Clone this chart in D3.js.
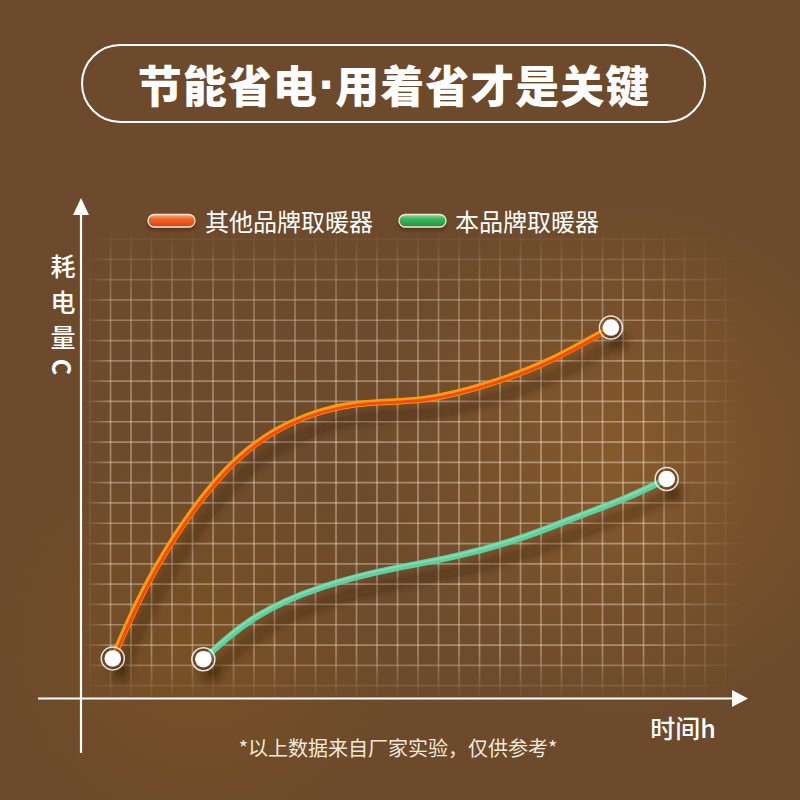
<!DOCTYPE html>
<html><head><meta charset="utf-8">
<script src="https://cdn.jsdelivr.net/npm/d3@7/dist/d3.min.js"></script>
<style>html,body{margin:0;padding:0;background:#6c4a2b;}svg{display:block;}</style>
</head><body>
<script>
// ---- data ----
const titleText = "节能省电·用着省才是关键";
const seriesNames = ["其他品牌取暖器", "本品牌取暖器"];
const hoursOther = [1.55, 3.69, 6.94, 10.2, 13.45, 16.7, 19.95, 22.9, 25.85];
const powerOther = [1.9, 6.41, 11.02, 13.48, 14.43, 14.67, 15.45, 16.6, 18.2];
const hoursOurs = [5.97, 8.57, 11.82, 15.07, 18.33, 21.5, 24.0, 26.45, 28.57];
const powerOurs = [1.86, 3.96, 5.43, 6.29, 6.95, 7.85, 8.8, 9.75, 10.74];
const yLabelChars = ["耗", "电", "量", "C"];
const xLabel = "时间h";
const footnote = "*以上数据来自厂家实验，仅供参考*";

const W = 800, H = 800;
const svg = d3.select("body").append("svg").attr("width", W).attr("height", H);
const defs = svg.append("defs");
const FONT = "'Noto Sans CJK SC','Noto Sans',sans-serif";

// scales (grid units)
const x = d3.scaleLinear().domain([0, 32]).range([81, 737]);
const y = d3.scaleLinear().domain([0, 22]).range([697, 250.4]);

// background
svg.append("rect").attr("width", W).attr("height", H).attr("fill", "#6c4a2b");
const g1 = defs.append("radialGradient").attr("id", "glow1").attr("gradientUnits", "userSpaceOnUse")
  .attr("cx", 620).attr("cy", 460).attr("r", 260);
g1.append("stop").attr("offset", 0).attr("stop-color", "#8e5f2c").attr("stop-opacity", 0.75);
g1.append("stop").attr("offset", 1).attr("stop-color", "#8e5f2c").attr("stop-opacity", 0);
svg.append("rect").attr("width", W).attr("height", H).attr("fill", "url(#glow1)");
const g2 = defs.append("radialGradient").attr("id", "glow2").attr("gradientUnits", "userSpaceOnUse")
  .attr("cx", 200).attr("cy", 640).attr("r", 200);
g2.append("stop").attr("offset", 0).attr("stop-color", "#84561f").attr("stop-opacity", 0.55);
g2.append("stop").attr("offset", 1).attr("stop-color", "#84561f").attr("stop-opacity", 0);
svg.append("rect").attr("width", W).attr("height", H).attr("fill", "url(#glow2)");

// title
svg.append("rect").attr("x", 82).attr("y", 45).attr("width", 623).attr("height", 77)
  .attr("rx", 38.5).attr("fill", "none").attr("stroke", "#fff").attr("stroke-width", 2);
const parts = titleText.split("·");
const tt = svg.append("text").attr("x", 394).attr("y", 84).attr("text-anchor", "middle")
  .attr("dominant-baseline", "central").attr("fill", "#fff")
  .attr("font-family", FONT).attr("font-weight", 900).attr("font-size", 44)
  .attr("letter-spacing", 1);
tt.append("tspan").text(parts[0]);
tt.append("tspan").attr("font-family", "'DejaVu Sans',sans-serif").attr("font-weight", 700).text("·");
tt.append("tspan").text(parts[1]);

// grid with fading mask
const mh = defs.append("linearGradient").attr("id", "fadeH").attr("gradientUnits", "userSpaceOnUse")
  .attr("x1", 84).attr("x2", 742).attr("y1", 0).attr("y2", 0);
[[0,0],[0.04,0.9],[0.85,1],[1,0]].forEach(([o,v]) => mh.append("stop").attr("offset", o).attr("stop-color", "#fff").attr("stop-opacity", v));
const mv = defs.append("linearGradient").attr("id", "fadeV").attr("gradientUnits", "userSpaceOnUse")
  .attr("x1", 0).attr("x2", 0).attr("y1", 228).attr("y2", 700);
[[0,0],[0.16,0.75],[0.4,1],[0.9,0.9],[1,0]].forEach(([o,v]) => mv.append("stop").attr("offset", o).attr("stop-color", "#fff").attr("stop-opacity", v));
defs.append("mask").attr("id", "maskH").attr("maskUnits", "userSpaceOnUse")
  .attr("x", 0).attr("y", 0).attr("width", W).attr("height", H)
  .append("rect").attr("width", W).attr("height", H).attr("fill", "url(#fadeH)");
defs.append("mask").attr("id", "maskV").attr("maskUnits", "userSpaceOnUse")
  .attr("x", 0).attr("y", 0).attr("width", W).attr("height", H)
  .append("rect").attr("width", W).attr("height", H).attr("fill", "url(#fadeV)");
defs.append("filter").attr("id", "gridBlur").append("feGaussianBlur").attr("stdDeviation", 0.5);

const gridV = d3.range(0, 32).map(k => 0.44 + k);
const gridH = d3.range(0, 23).map(k => 0.56 + k);
const gridOuter = svg.append("g").attr("mask", "url(#maskV)");
const grid = gridOuter.append("g").attr("mask", "url(#maskH)").attr("filter", "url(#gridBlur)");
grid.selectAll("line.v").data(gridV).join("line").attr("class", "v")
  .attr("x1", d => x(d)).attr("x2", d => x(d)).attr("y1", 228).attr("y2", 700)
  .attr("stroke", "#f4e6d6").attr("stroke-opacity", 0.45).attr("stroke-width", 1.7);
grid.selectAll("line.h").data(gridH).join("line").attr("class", "h")
  .attr("y1", d => y(d)).attr("y2", d => y(d)).attr("x1", 84).attr("x2", 742)
  .attr("stroke", "#f4e6d6").attr("stroke-opacity", 0.45).attr("stroke-width", 1.7);

// axes
const axisG = svg.append("g").attr("fill", "#fff").attr("stroke", "#fff");
axisG.append("line").attr("x1", 81).attr("x2", 81).attr("y1", 753).attr("y2", 212).attr("stroke-width", 2.2);
axisG.append("path").attr("d", "M81,198 L89,215 L73,215 Z").attr("stroke", "none");
axisG.append("line").attr("x1", 38).attr("x2", 735).attr("y1", 698.5).attr("y2", 698.5).attr("stroke-width", 2.2);
axisG.append("path").attr("d", "M748,698.5 L732,690 L732,707 Z").attr("stroke", "none");

// axis labels
const yl = svg.append("g").attr("fill", "#fff").attr("font-family", FONT).attr("font-size", 25).attr("font-weight", 500);
const ylY = [265, 301, 336];
yLabelChars.forEach((c, i) => {
  if (i < 3) {
    yl.append("text").attr("x", 63).attr("y", ylY[i]).attr("text-anchor", "middle")
      .attr("dominant-baseline", "central").text(c);
  } else {
    yl.append("text").attr("transform", "translate(63,367) rotate(90)").attr("text-anchor", "middle")
      .attr("dominant-baseline", "central").attr("font-weight", 700).text(c);
  }
});
svg.append("text").attr("x", 683).attr("y", 727).attr("text-anchor", "middle")
  .attr("dominant-baseline", "central").attr("fill", "#fff").attr("font-family", FONT)
  .attr("font-size", 25).attr("font-weight", 500).text(xLabel);
svg.append("text").attr("x", 398).attr("y", 747).attr("text-anchor", "middle")
  .attr("dominant-baseline", "central").attr("fill", "#f3e8dc").attr("font-family", FONT)
  .attr("font-size", 20).text(footnote);

// legend
function pillGrad(id, stops) {
  const g = defs.append("linearGradient").attr("id", id).attr("x1", 0).attr("x2", 0).attr("y1", 0).attr("y2", 1);
  stops.forEach(([o, c]) => g.append("stop").attr("offset", o).attr("stop-color", c));
}
pillGrad("pillO", [[0, "#ffb07a"], [0.35, "#f3682a"], [1, "#d8400b"]]);
pillGrad("pillG", [[0, "#8fe09a"], [0.35, "#3cb85a"], [1, "#1f953a"]]);
defs.append("filter").attr("id", "pillShadow").attr("x", "-30%").attr("y", "-50%").attr("width", "160%").attr("height", "220%")
  .append("feDropShadow").attr("dx", 0).attr("dy", 2).attr("stdDeviation", 1.5).attr("flood-color", "#2a1808").attr("flood-opacity", 0.5);
const legendItems = [
  { name: seriesNames[0], px: 148, tx: 205, fill: "url(#pillO)" },
  { name: seriesNames[1], px: 399, tx: 455, fill: "url(#pillG)" }
];
const lg = svg.append("g");
legendItems.forEach(it => {
  lg.append("rect").attr("x", it.px).attr("y", 214.5).attr("width", 47).attr("height", 12.5).attr("rx", 6.25)
    .attr("fill", it.fill).attr("stroke", "#f6e3cf").attr("stroke-width", 1.3).attr("filter", "url(#pillShadow)");
  lg.append("text").attr("x", it.tx).attr("y", 220.5).attr("dominant-baseline", "central")
    .attr("fill", "#fff").attr("font-family", FONT).attr("font-size", 24).text(it.name);
});

// curves
const line = d3.line().x(d => x(d[0])).y(d => y(d[1])).curve(d3.curveNatural);
const other = hoursOther.map((h, i) => [h, powerOther[i]]);
const ours = hoursOurs.map((h, i) => [h, powerOurs[i]]);

defs.append("filter").attr("id", "lineShadow").attr("x", "-20%").attr("y", "-20%").attr("width", "140%").attr("height", "140%")
  .append("feGaussianBlur").attr("stdDeviation", 4);
const shadowG = svg.append("g").attr("filter", "url(#lineShadow)").attr("transform", "translate(8,14)");
[other, ours].forEach(data => {
  shadowG.append("path").attr("d", line(data)).attr("fill", "none")
    .attr("stroke", "#2e1a08").attr("stroke-opacity", 0.45).attr("stroke-width", 7);
  shadowG.selectAll(null).data([data[0], data[data.length - 1]]).join("circle")
    .attr("cx", d => x(d[0])).attr("cy", d => y(d[1])).attr("r", 9)
    .attr("fill", "#2e1a08").attr("fill-opacity", 0.45);
});

svg.append("path").attr("d", line(ours)).attr("fill", "none").attr("stroke", "#5fcf9e").attr("stroke-width", 6.5).attr("stroke-linecap", "round");
svg.append("path").attr("d", line(ours)).attr("fill", "none").attr("stroke", "#7fdcb5").attr("stroke-width", 2).attr("transform", "translate(-0.5,-1)");

svg.append("path").attr("d", line(other)).attr("fill", "none").attr("stroke", "#ff9a00").attr("stroke-width", 6.5).attr("stroke-linecap", "round");
svg.append("path").attr("d", line(other)).attr("fill", "none").attr("stroke", "#ef4a0c").attr("stroke-width", 3).attr("transform", "translate(0.8,0.8)");

// end markers
const markers = [other[0], other[other.length - 1], ours[0], ours[ours.length - 1]];
const mg = svg.append("g");
mg.selectAll("circle.ring").data(markers).join("circle").attr("class", "ring")
  .attr("cx", d => x(d[0])).attr("cy", d => y(d[1])).attr("r", 11.5)
  .attr("fill", "#5a3a1c").attr("fill-opacity", 0.35).attr("stroke", "#fff").attr("stroke-opacity", 0.85).attr("stroke-width", 1.5);
mg.selectAll("circle.dot").data(markers).join("circle").attr("class", "dot")
  .attr("cx", d => x(d[0])).attr("cy", d => y(d[1])).attr("r", 8.3).attr("fill", "#fff");
</script>
</body></html>
